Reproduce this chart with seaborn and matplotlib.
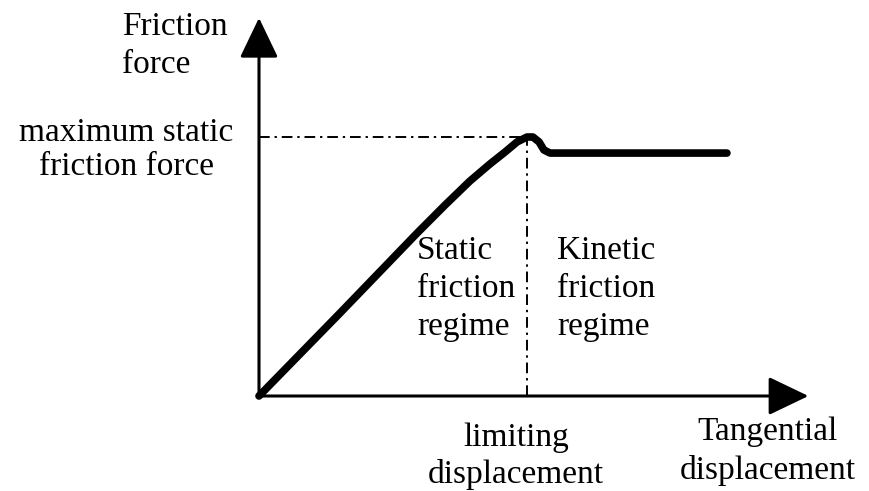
import matplotlib
matplotlib.use("Agg")
import matplotlib.pyplot as plt
import seaborn as sns
import pandas as pd

# ---- data (normalised: limiting displacement = 1, max static force = 1) ----
displacement = [0.0, 0.302, 0.590, 0.694, 0.787, 0.862, 0.918, 0.963, 1.000, 1.022, 1.045, 1.063, 1.086, 1.746]
friction_force = [0.0, 0.320, 0.629, 0.737, 0.830, 0.896, 0.942, 0.981, 1.000, 1.000, 0.981, 0.950, 0.938, 0.938]
limiting_displacement = 1.0
max_static_force = 1.0
x_axis_end = 2.05
y_axis_end = 1.46

label_y_axis = "Friction\nforce"
label_x_axis = "Tangential\ndisplacement"
label_max = "maximum static\nfriction force"
label_limit = "limiting\ndisplacement"
label_static = "Static\nfriction\nregime"
label_kinetic = "Kinetic\nfriction\nregime"

df = pd.DataFrame({"displacement": displacement, "force": friction_force})

sns.set_theme(style="white")
plt.rcParams["font.family"] = ["Liberation Serif", "DejaVu Serif"]
plt.rcParams["text.color"] = "black"

fig = plt.figure(figsize=(8.69, 4.91), dpi=100)
ax = fig.add_axes([0, 0, 1, 1])
ax.set_xlim(-0.9664, 2.2761)
ax.set_ylim(-0.3668, 1.5290)
ax.axis("off")

# axes with arrow heads
arrow_kw = dict(arrowstyle="-|>,head_length=1.0,head_width=0.48", mutation_scale=25,
                lw=2.2, color="black", shrinkA=0, shrinkB=0)
ax.annotate("", xy=(x_axis_end, 0), xytext=(0, 0), arrowprops=arrow_kw)
ax.annotate("", xy=(0, y_axis_end), xytext=(0, 0), arrowprops=arrow_kw)

# dash-dot guide lines
dd = (0, (5.5, 2.5, 1.2, 2.5))
ax.plot([0, limiting_displacement], [max_static_force, max_static_force],
        color="black", lw=1.4, linestyle=dd)
ax.plot([limiting_displacement, limiting_displacement], [0, max_static_force],
        color="black", lw=1.4, linestyle=dd)

# friction curve
sns.lineplot(data=df, x="displacement", y="force", ax=ax, color="black",
             linewidth=5.5, sort=False, solid_joinstyle="round", solid_capstyle="round")

fs = 24
tk = dict(fontsize=fs, color="black")
ax.text(-0.511, 1.351, label_y_axis, ha="left", va="center", linespacing=1.32, **tk)
ax.text(-0.496, 0.950, label_max, ha="center", va="center", linespacing=1.13,
        multialignment="center", **tk)
ax.text(0.590, 0.413, label_static, ha="left", va="center", linespacing=1.32, **tk)
ax.text(1.112, 0.413, label_kinetic, ha="left", va="center", linespacing=1.32, **tk)
ax.text(0.960, -0.234, label_limit, ha="center", va="center", linespacing=1.25,
        multialignment="center", **tk)
ax.text(1.899, -0.214, label_x_axis, ha="center", va="center", linespacing=1.35,
        multialignment="center", **tk)

fig.savefig("out.png", dpi=100, facecolor="white")
